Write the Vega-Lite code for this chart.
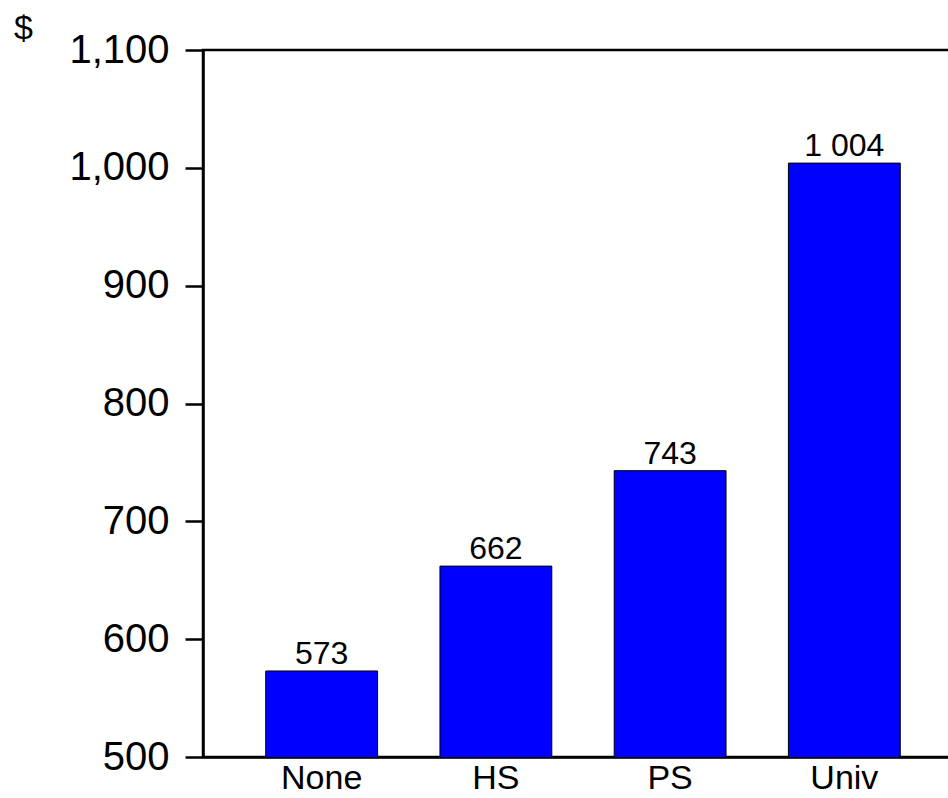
{
  "$schema": "https://vega.github.io/schema/vega-lite/v6.json",
  "autosize": "none",
  "width": 760,
  "height": 707,
  "padding": {"left": 203, "top": 50, "right": 0, "bottom": 41},
  "background": "white",
  "config": {
    "view": {"stroke": "black", "strokeWidth": 2.5},
    "font": "Liberation Sans"
  },
  "data": {
    "values": [
      {"level": "None", "value": 573, "label": "573"},
      {"level": "HS", "value": 662, "label": "662"},
      {"level": "PS", "value": 743, "label": "743"},
      {"level": "Univ", "value": 1004, "label": "1 004"}
    ]
  },
  "encoding": {
    "x": {
      "field": "level",
      "type": "nominal",
      "sort": null,
      "scale": {"paddingInner": 0.358, "paddingOuter": 0.36},
      "axis": {
        "title": null,
        "labelAngle": 0,
        "labelFont": "Liberation Sans",
        "labelFontSize": 34,
        "labelColor": "black",
        "labelPadding": 4,
        "ticks": false,
        "domainColor": "black",
        "domainWidth": 2.5
      }
    },
    "y": {
      "field": "value",
      "type": "quantitative",
      "scale": {"domain": [500, 1100], "nice": false, "zero": false},
      "axis": {
        "values": [500, 600, 700, 800, 900, 1000, 1100],
        "format": ",d",
        "grid": false,
        "title": "$",
        "titleAngle": 0,
        "titleFont": "Liberation Sans",
        "titleFontSize": 34,
        "titleFontWeight": "normal",
        "titleColor": "black",
        "titleX": -180,
        "titleY": -22,
        "titleAlign": "center",
        "titleBaseline": "middle",
        "labelFont": "Liberation Sans",
        "labelFontSize": 40,
        "labelColor": "black",
        "labelPadding": 16,
        "tickSize": 18,
        "tickWidth": 2.5,
        "tickColor": "black",
        "domainColor": "black",
        "domainWidth": 2.5
      }
    }
  },
  "layer": [
    {
      "mark": {"type": "bar", "color": "#0000FF", "stroke": "black", "strokeWidth": 1, "clip": true}
    },
    {
      "mark": {
        "type": "text",
        "baseline": "alphabetic",
        "dy": -7,
        "font": "Liberation Sans",
        "fontSize": 32,
        "color": "black"
      },
      "encoding": {"text": {"field": "label"}}
    }
  ]
}
